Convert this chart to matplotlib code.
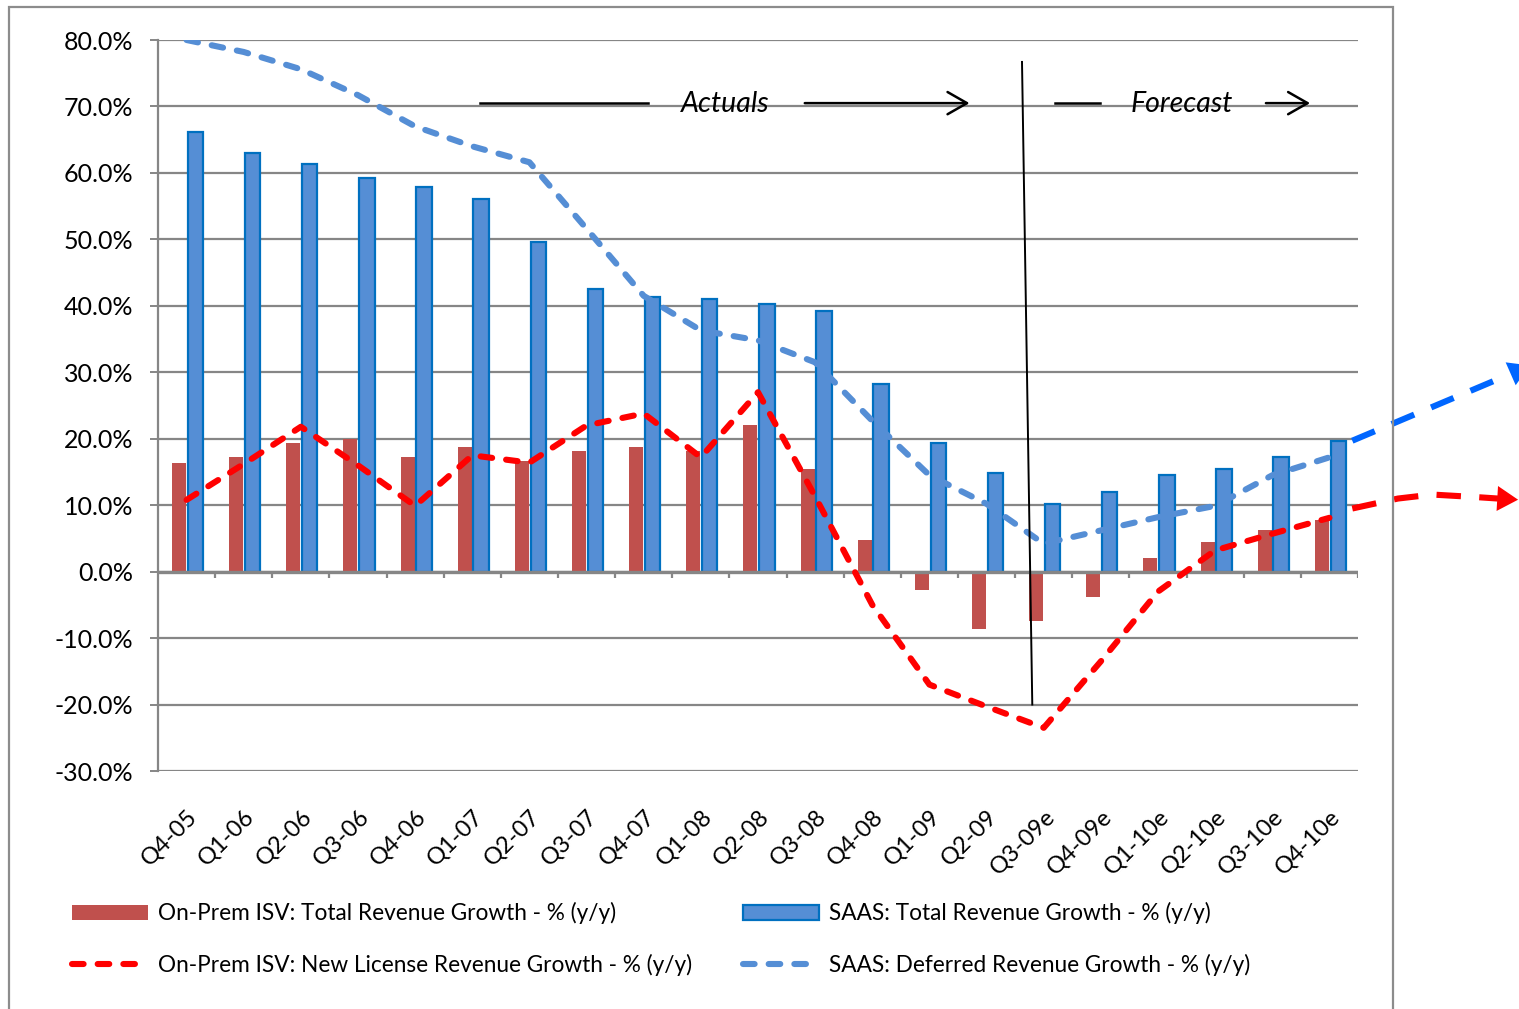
import matplotlib
matplotlib.use("Agg")
import matplotlib.pyplot as plt
import numpy as np
from matplotlib.patches import Rectangle, FancyArrowPatch, ArrowStyle
from matplotlib.lines import Line2D
from matplotlib.patches import Patch
from matplotlib.ticker import FuncFormatter

plt.rcParams['font.family'] = ['Lato', 'DejaVu Sans']

# ---------------- data ----------------
quarters = ["Q4-05", "Q1-06", "Q2-06", "Q3-06", "Q4-06", "Q1-07", "Q2-07", "Q3-07",
            "Q4-07", "Q1-08", "Q2-08", "Q3-08", "Q4-08", "Q1-09", "Q2-09", "Q3-09e",
            "Q4-09e", "Q1-10e", "Q2-10e", "Q3-10e", "Q4-10e"]
onprem_total = [16.3, 17.3, 19.4, 20.0, 17.3, 18.7, 16.6, 18.2, 18.7, 18.2, 22.1, 15.5,
                4.8, -2.7, -8.6, -7.5, -3.8, 2.1, 4.5, 6.3, 7.7]
saas_total = [66.1, 63.0, 61.3, 59.2, 57.9, 56.0, 49.6, 42.6, 41.3, 41.0, 40.2, 39.2,
              28.2, 19.3, 14.8, 10.2, 12.0, 14.5, 15.5, 17.2, 19.6]
onprem_license = [10.8, 16.2, 21.8, 16.0, 9.9, 17.5, 16.4, 22.0, 23.8, 17.2, 27.0, 11.3,
                  -5.0, -17.0, -20.3, -23.5, -13.5, -3.0, 3.2, 5.7, 8.1]
saas_deferred = [80.0, 78.2, 75.6, 71.7, 67.0, 64.0, 61.6, 51.6, 41.5, 36.3, 34.8, 31.5,
                 22.7, 14.5, 10.2, 4.2, 6.2, 8.2, 9.9, 14.5, 17.2]
# hand-drawn trend extensions beyond the last quarter
red_ext_x = [20.4, 21.2, 21.8, 22.6, 22.95]
red_ext_y = [9.5, 11.0, 11.6, 11.2, 11.0]
blue_ext_x = [20.4, 23.1]
blue_ext_y = [19.7, 29.5]

yticks = np.arange(-30, 81, 10)

# ---------------- figure ----------------
W, H = 1519, 1009
fig = plt.figure(figsize=(W / 100, H / 100), dpi=100)
ax = fig.add_axes([158 / W, 1 - 771 / H, 1200 / W, 731 / H])

grid_c = "#868686"
red_bar = "#C0504D"
blue_fill = "#558ED5"
blue_edge = "#0070C0"
red_line = "#FF0000"
blue_line = "#558ED5"

x = np.arange(len(quarters))
ax.set_xlim(-0.5, len(quarters) - 0.5)
ax.set_ylim(-30, 80)

for v in yticks:
    ax.axhline(v, color=grid_c, lw=1.6, zorder=0)
ax.axhline(0, color=grid_c, lw=2.4, zorder=3)
# category boundary tick marks on the zero line
for b in np.arange(-0.5, len(quarters), 1.0)[1:]:
    ax.plot([b, b], [0, -0.9], color=grid_c, lw=1.6, zorder=3, solid_capstyle='butt')

ax.bar(x - 0.133, onprem_total, width=0.245, color=red_bar, zorder=2, linewidth=0)
ax.bar(x + 0.155, saas_total, width=0.27, color=blue_fill, edgecolor=blue_edge,
       linewidth=1.6, zorder=2)

l1, = ax.plot(x, onprem_license, color=red_line, lw=4.4, zorder=5,
              dash_capstyle='round', solid_joinstyle='round')
l1.set_dashes((1.9, 2.3))
l2, = ax.plot(x, saas_deferred, color=blue_line, lw=4.4, zorder=4,
              dash_capstyle='round', solid_joinstyle='round')
l2.set_dashes((1.9, 2.3))

# extensions outside plot
e1, = ax.plot(red_ext_x, red_ext_y, color="#FF0000", lw=4.4, clip_on=False, zorder=5,
              dash_capstyle='butt')
e1.set_dashes((4.0, 3.0))
e2, = ax.plot(blue_ext_x, blue_ext_y, color="#0066FF", lw=4.4, clip_on=False, zorder=5,
              dash_capstyle='butt')
e2.set_dashes((4.0, 3.0))
ah1 = FancyArrowPatch((red_ext_x[-1], red_ext_y[-1]), (23.35, 10.8),
                      arrowstyle=ArrowStyle('-|>', head_length=15, head_width=9),
                      mutation_scale=1, color="#FF0000", lw=0, clip_on=False, zorder=6)
ax.add_patch(ah1)
ah2 = FancyArrowPatch((blue_ext_x[-1], blue_ext_y[-1]), (23.55, 31.2),
                      arrowstyle=ArrowStyle('-|>', head_length=15, head_width=9),
                      mutation_scale=1, color="#0066FF", lw=0, clip_on=False, zorder=6)
ax.add_patch(ah2)

# actual / forecast annotations
ax.plot([14.62, 14.80], [76.7, -20.0], color='black', lw=1.4, zorder=6)
ya = 70.5
ax.plot([5.13, 8.08], [ya, ya], color='black', lw=1.8, zorder=6)
ax.add_patch(FancyArrowPatch((10.77, ya), (13.75, ya),
             arrowstyle=ArrowStyle('->', head_length=14, head_width=8),
             mutation_scale=1, color='black', lw=1.8, zorder=6))
ax.text(9.42, ya - 0.2, "Actuals", ha='center', va='center', fontsize=20.5,
        style='italic', zorder=7)
ax.plot([15.20, 15.99], [ya, ya], color='black', lw=1.8, zorder=6)
ax.add_patch(FancyArrowPatch((18.84, ya), (19.71, ya),
             arrowstyle=ArrowStyle('->', head_length=14, head_width=8),
             mutation_scale=1, color='black', lw=1.8, zorder=6))
ax.text(17.42, ya - 0.2, "Forecast", ha='center', va='center', fontsize=20.5,
        style='italic', zorder=7)

# axes styling
for s in ['top', 'right', 'bottom']:
    ax.spines[s].set_visible(False)
ax.spines['left'].set_color(grid_c)
ax.spines['left'].set_linewidth(1.6)
ax.set_yticks(yticks)
ax.yaxis.set_major_formatter(FuncFormatter(lambda v, p: f"{v:.1f}%"))
ax.tick_params(axis='y', length=6, width=1.4, color=grid_c, pad=12, labelsize=18)
ax.set_xticks(x)
ax.set_xticklabels(quarters, rotation=45, ha='right', va='top', rotation_mode='anchor',
                   fontsize=17)
ax.tick_params(axis='x', length=0, pad=25)

# legend
handles = [
    Patch(facecolor=red_bar, edgecolor='none'),
    Line2D([], [], color=red_line, lw=4.4, dashes=(1.9, 2.3), dash_capstyle='round'),
    Patch(facecolor=blue_fill, edgecolor=blue_edge, lw=1.6),
    Line2D([], [], color=blue_line, lw=4.4, dashes=(1.9, 2.3), dash_capstyle='round'),
]
labels = ["On-Prem ISV: Total Revenue Growth - % (y/y)",
          "On-Prem ISV: New License Revenue Growth - % (y/y)",
          "SAAS: Total Revenue Growth - % (y/y)",
          "SAAS: Deferred Revenue Growth - % (y/y)"]
fig.legend(handles, labels, ncol=2, loc='upper left',
           bbox_to_anchor=(72 / W, 1 - 902 / H), frameon=False, fontsize=16.3,
           handlelength=3.35, handleheight=0.65, handletextpad=0.44, columnspacing=2.25,
           labelspacing=1.3, borderpad=0, borderaxespad=0)

# outer chart border
fig.add_artist(Rectangle((9 / W, -0.02), (1393 - 9) / W, 1 - 7 / H + 0.02,
                         transform=fig.transFigure, fill=False, edgecolor="#8c8c8c",
                         lw=1.6))

fig.savefig("out.png", dpi=100)
